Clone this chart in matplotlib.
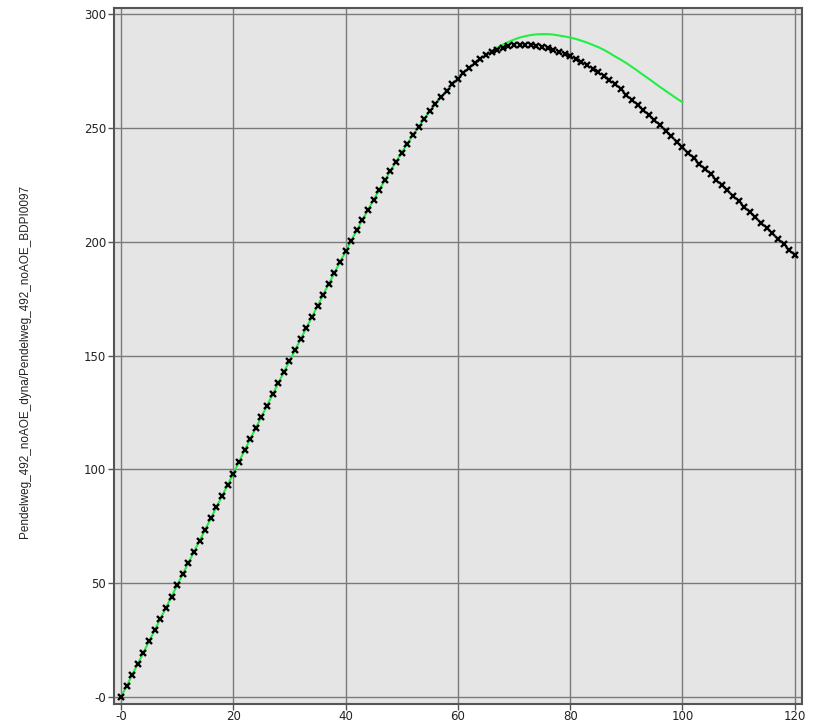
import numpy as np
import matplotlib.pyplot as plt

# black markers, one per step 0..120
x_meas = np.arange(0, 121)
y_meas = [0, 4.9, 9.8, 14.7, 19.6, 24.5, 29.4, 34.3, 39.2, 44.1,
          49.1, 54.0, 58.9, 63.8, 68.7, 73.6, 78.5, 83.4, 88.3, 93.2,
          98.1, 103.3, 108.3, 113.2, 118.1, 123.0, 128.0, 132.9, 137.8, 142.7,
          147.5, 152.3, 157.2, 162.0, 166.9, 171.7, 176.6, 181.4, 186.2, 191.0,
          195.7, 200.4, 205.0, 209.5, 214.0, 218.4, 222.7, 226.9, 231.1, 235.1,
          239.1, 243.0, 246.8, 250.4, 253.9, 257.2, 260.4, 263.4, 266.3, 269.0,
          271.6, 274.0, 276.3, 278.3, 280.2, 281.8, 283.2, 284.3, 285.2, 285.8,
          286.2, 286.4, 286.4, 286.2, 285.9, 285.4, 284.8, 284.1, 283.3, 282.4,
          281.4, 280.2, 278.9, 277.5, 276.0, 274.4, 272.7, 270.9, 269.0, 267.0,
          264.6, 262.4, 260.2, 257.9, 255.6, 253.3, 251.0, 248.6, 246.2, 243.8,
          241.4, 239.0, 236.7, 234.3, 231.9, 229.6, 227.2, 224.8, 222.5, 220.1,
          217.7, 215.4, 213.0, 210.6, 208.3, 205.9, 203.6, 201.2, 198.8, 196.4,
          194.0]

# green curve 0..100
x_sim = np.arange(0, 101)
y_sim = y_meas[:64] + [
    280.3, 282.1, 283.7, 285.2, 286.5, 287.7, 288.7, 289.6, 290.2, 290.7,
    291.0, 291.1, 291.1, 290.9, 290.5, 290.1, 289.6, 289.0, 288.2, 287.4,
    286.4, 285.4, 284.2, 282.8, 281.3, 279.9, 278.4, 276.7, 275.0, 273.2,
    271.5, 269.7, 267.9, 266.2, 264.5, 262.8, 261.2]

xticks = [0, 20, 40, 60, 80, 100, 120]
xlabels = ['-0', '20', '40', '60', '80', '100', '120']
yticks = [0, 50, 100, 150, 200, 250, 300]
ylabels = ['-0', '50', '100', '150', '200', '250', '300']

fig = plt.figure(figsize=(8.14, 7.23), dpi=100)
ax = fig.add_axes([0.140, 0.026, 0.845, 0.963])
ax.set_facecolor('#e5e5e5')

ax.plot(x_sim, y_sim, color='#22ee44', lw=1.5, zorder=3)
ax.plot(x_meas, y_meas, ls='none', marker='x', color='black',
        markersize=5, mew=1.7, zorder=4)

ax.set_xlim(-1.25, 121.25)
ax.set_ylim(-3.1, 302.6)
ax.set_xticks(xticks)
ax.set_xticklabels(xlabels)
ax.set_yticks(yticks)
ax.set_yticklabels(ylabels)
ax.grid(True, color='#7a7a7a', lw=1.0)
ax.set_axisbelow(True)

for s in ax.spines.values():
    s.set_color('#555555')
    s.set_linewidth(1.5)

ax.tick_params(direction='out', length=4, width=1, color='#555555',
               labelsize=8.5, labelcolor='#222222')
ax.tick_params(axis='x', pad=0.5)
ax.tick_params(axis='y', pad=1.5)

fig.text(0.031, 0.5, 'Pendelweg_492_noAOE_dyna/Pendelweg_492_noAOE_BDPI0097',
         rotation=90, ha='center', va='center', fontsize=8.5,
         family='Liberation Sans', color='#222222')

fig.savefig('out.png', dpi=100)
